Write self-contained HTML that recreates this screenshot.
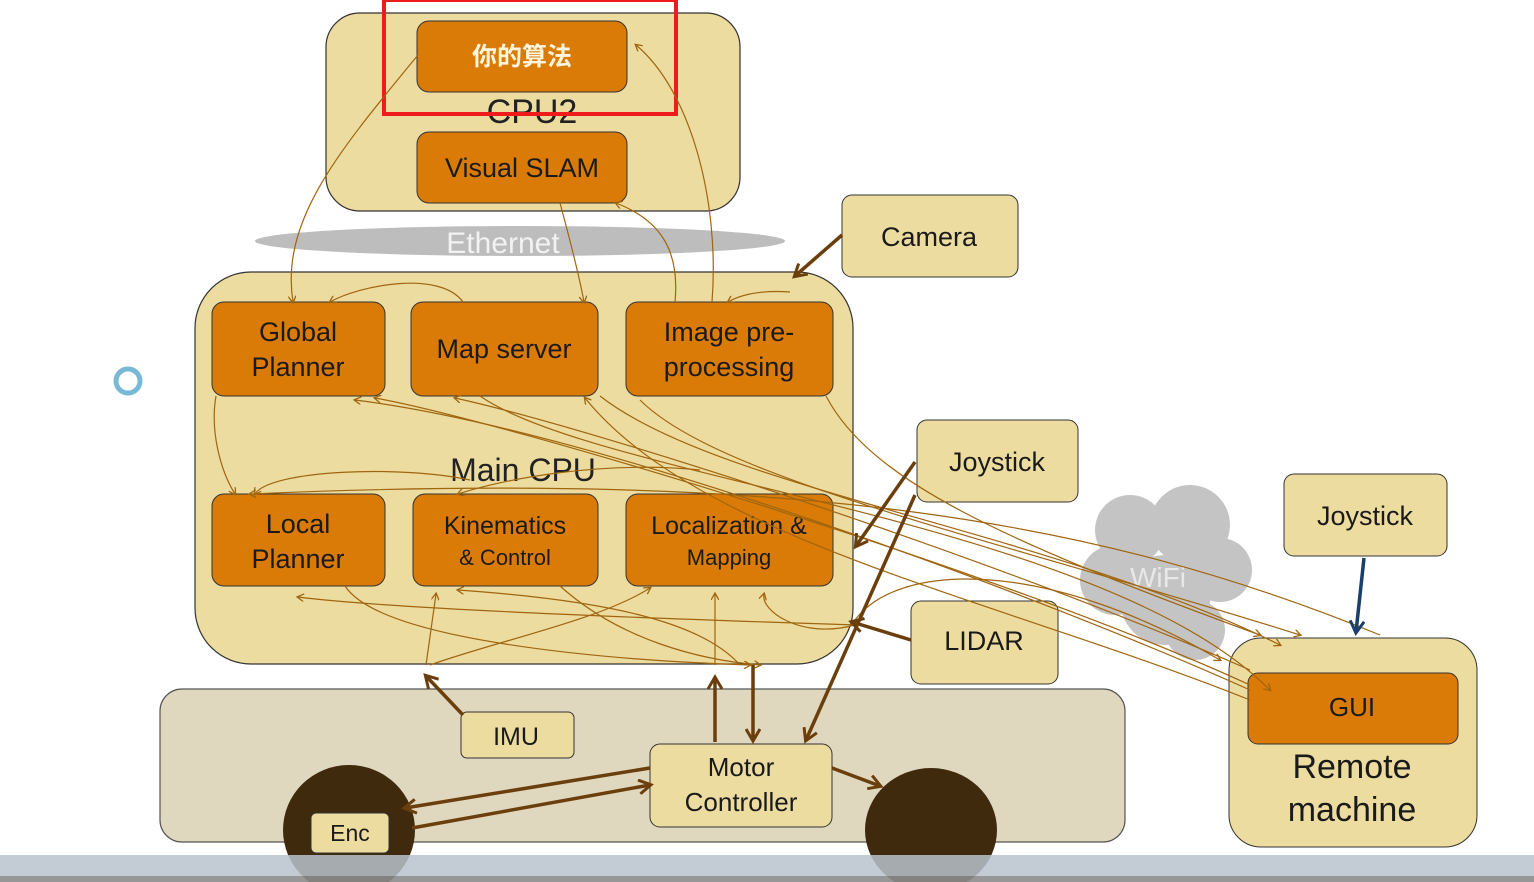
<!DOCTYPE html>
<html><head><meta charset="utf-8"><style>
html,body{margin:0;padding:0;background:#fff;}
svg{display:block;}
text{font-family:"Liberation Sans","Noto Sans CJK SC",sans-serif;}
</style></head><body>
<svg width="1534" height="882" viewBox="0 0 1534 882" xmlns="http://www.w3.org/2000/svg">
<defs>
<marker id="a" markerWidth="8" markerHeight="8" refX="6" refY="4" orient="auto" markerUnits="userSpaceOnUse"><path d="M0,0 L7,4 L0,8" fill="none" stroke="#a0650f" stroke-width="1.3"/></marker>
<marker id="b" markerWidth="16" markerHeight="16" refX="12" refY="8" orient="auto" markerUnits="userSpaceOnUse"><path d="M1,1 L13,8 L1,15" fill="none" stroke="#6b3f0c" stroke-width="3"/></marker>
<marker id="c" markerWidth="16" markerHeight="16" refX="12" refY="8" orient="auto" markerUnits="userSpaceOnUse"><path d="M1,1 L13,8 L1,15" fill="none" stroke="#1b3f6b" stroke-width="3"/></marker>
</defs>
<!-- body -->
<rect x="160" y="689" width="965" height="153" rx="22" fill="#e0d7bf" stroke="#555" stroke-width="1.2"/>
<!-- CPU2 -->
<rect x="326" y="13" width="414" height="198" rx="34" fill="#ecdca0" stroke="#333" stroke-width="1.2"/>
<rect x="417" y="21" width="210" height="71" rx="12" fill="#d97b06" stroke="#333"/>
<text x="522" y="65" font-size="25" font-weight="bold" fill="#fff5dc" text-anchor="middle">你的算法</text>
<text x="532" y="123" font-size="34" fill="#222" text-anchor="middle">CPU2</text>
<rect x="417" y="132" width="210" height="71" rx="12" fill="#d97b06" stroke="#333"/>
<text x="522" y="177" font-size="27" fill="#1a1a1a" text-anchor="middle">Visual SLAM</text>
<rect x="384" y="0" width="292" height="114" fill="none" stroke="#ee1c1c" stroke-width="4"/>
<!-- Ethernet -->
<ellipse cx="520" cy="241" rx="265" ry="15" fill="#bdbdbd"/>
<text x="503" y="253" font-size="30" fill="#f2f2f2" text-anchor="middle">Ethernet</text>
<!-- Main CPU -->
<rect x="195" y="272" width="658" height="392" rx="56" fill="#ecdca0" stroke="#333" stroke-width="1.2"/>
<text x="523" y="481" font-size="32" fill="#222" text-anchor="middle">Main CPU</text>
<g stroke="#333" fill="#d97b06">
<rect x="212" y="302" width="173" height="94" rx="12"/>
<rect x="411" y="302" width="187" height="94" rx="12"/>
<rect x="626" y="302" width="207" height="94" rx="12"/>
<rect x="212" y="494" width="173" height="92" rx="12"/>
<rect x="413" y="494" width="185" height="92" rx="12"/>
<rect x="626" y="494" width="207" height="92" rx="12"/>
</g>
<g fill="#1a1a1a" font-size="27" text-anchor="middle">
<text x="298" y="341">Global</text><text x="298" y="376">Planner</text>
<text x="504" y="358">Map server</text>
<text x="729" y="341">Image pre-</text><text x="729" y="376">processing</text>
<text x="298" y="533">Local</text><text x="298" y="568">Planner</text>
<text x="505" y="534" font-size="25">Kinematics</text><text x="505" y="565" font-size="22">&amp; Control</text>
<text x="729" y="534" font-size="25">Localization &amp;</text><text x="729" y="565" font-size="22">Mapping</text>
</g>
<!-- side boxes -->
<g fill="#ecdca0" stroke="#333">
<rect x="842" y="195" width="176" height="82" rx="10"/>
<rect x="917" y="420" width="161" height="82" rx="10"/>
<rect x="911" y="601" width="147" height="83" rx="10"/>
<rect x="1284" y="474" width="163" height="82" rx="10"/>
<rect x="461" y="712" width="113" height="46" rx="6"/>
<rect x="650" y="744" width="182" height="83" rx="10"/>
<rect x="1229" y="638" width="248" height="209" rx="32"/>
</g>
<rect x="1248" y="673" width="210" height="71" rx="10" fill="#d97b06" stroke="#333"/>
<!-- WiFi cloud -->
<g fill="#c4c4c4">
<circle cx="1130" cy="530" r="35"/><circle cx="1190" cy="525" r="40"/><circle cx="1220" cy="570" r="32"/>
<circle cx="1115" cy="580" r="35"/><circle cx="1165" cy="600" r="45"/><circle cx="1195" cy="630" r="30"/>
</g>
<text x="1158" y="587" font-size="28" fill="#e8e8e8" text-anchor="middle">WiFi</text>
<!-- wheels -->
<ellipse cx="349" cy="830" rx="66" ry="65" fill="#3f2a0d"/>
<ellipse cx="931" cy="830" rx="66" ry="62" fill="#3f2a0d"/>
<rect x="311" y="813" width="78" height="40" rx="5" fill="#ecdca0" stroke="#333"/>
<g fill="#1a1a1a" font-size="27" text-anchor="middle">
<text x="929" y="246">Camera</text>
<text x="997" y="471">Joystick</text>
<text x="984" y="650">LIDAR</text>
<text x="1365" y="525">Joystick</text>
<text x="516" y="745" font-size="25">IMU</text>
<text x="741" y="776" font-size="26">Motor</text><text x="741" y="811" font-size="26">Controller</text>
<text x="350" y="841" font-size="23">Enc</text>
<text x="1352" y="716" font-size="26">GUI</text>
<text x="1352" y="778" font-size="34">Remote</text><text x="1352" y="821" font-size="34">machine</text>
</g>
<!-- thin connectors -->
<g fill="none" stroke="#a0650f" stroke-width="1.2" marker-end="url(#a)">
<path d="M418,55 C340,150 280,220 293,302"/>
<path d="M712,302 C720,200 690,90 636,45"/>
<path d="M675,302 C680,250 660,220 616,203"/>
<path d="M560,203 C570,240 580,280 584,302"/>
<path d="M463,302 C440,270 360,285 330,302"/>
<path d="M790,292 C760,290 740,295 728,302"/>
<path d="M216,396 C210,430 220,470 235,494"/>
<path d="M470,480 C400,465 270,470 255,494"/>
<path d="M700,470 C600,460 500,480 458,494"/>
<path d="M826,396 C870,480 1000,540 1260,635"/>
<path d="M640,400 C720,480 1000,540 1300,635"/>
<path d="M600,396 C720,490 1050,530 1280,645"/>
<path d="M480,396 C600,480 1100,520 1270,690"/>
<path d="M1250,690 C1050,600 600,430 355,400"/>
<path d="M1250,685 C1000,570 500,420 375,398"/>
<path d="M1250,670 C1000,560 600,430 455,398"/>
<path d="M1250,700 C1000,600 700,540 585,398"/>
<path d="M1380,635 C1100,520 800,470 250,494"/>
<path d="M345,586 C380,640 600,660 750,665"/>
<path d="M560,586 C620,640 700,660 760,665"/>
<path d="M430,665 C500,640 600,620 650,588"/>
<path d="M715,665 L715,594"/>
<path d="M740,665 C700,620 600,600 458,590"/>
<path d="M855,625 C700,620 400,610 298,597"/>
<path d="M855,625 C800,640 760,610 764,594"/>
<path d="M426,665 L436,594"/>
<path d="M855,620 C900,560 1050,560 1220,660"/>
</g>
<!-- thick connectors -->
<g fill="none" stroke="#6b3f0c" stroke-width="3.5" marker-end="url(#b)">
<path d="M842,235 L795,276"/>
<path d="M915,462 L856,546"/>
<path d="M915,495 L806,740"/>
<path d="M911,640 L852,622"/>
<path d="M463,715 L426,676"/>
<path d="M715,742 L715,678"/>
<path d="M753,665 L753,740"/>
<path d="M650,768 L405,808"/>
<path d="M412,828 L650,785"/>
<path d="M832,768 L880,786"/>
</g>
<path d="M1364,558 L1356,632" fill="none" stroke="#1b3f6b" stroke-width="3.5" marker-end="url(#c)"/>
<!-- cursor-ish / ring -->
<circle cx="128" cy="381" r="12" fill="none" stroke="#7ab9d6" stroke-width="5"/>
<!-- bottom bar -->
<rect x="0" y="855" width="1534" height="21" fill="#b9c2ce" opacity="0.85"/>
<rect x="0" y="876" width="1534" height="6" fill="#8c8c8c" opacity="0.9"/>
</svg>
</body></html>
